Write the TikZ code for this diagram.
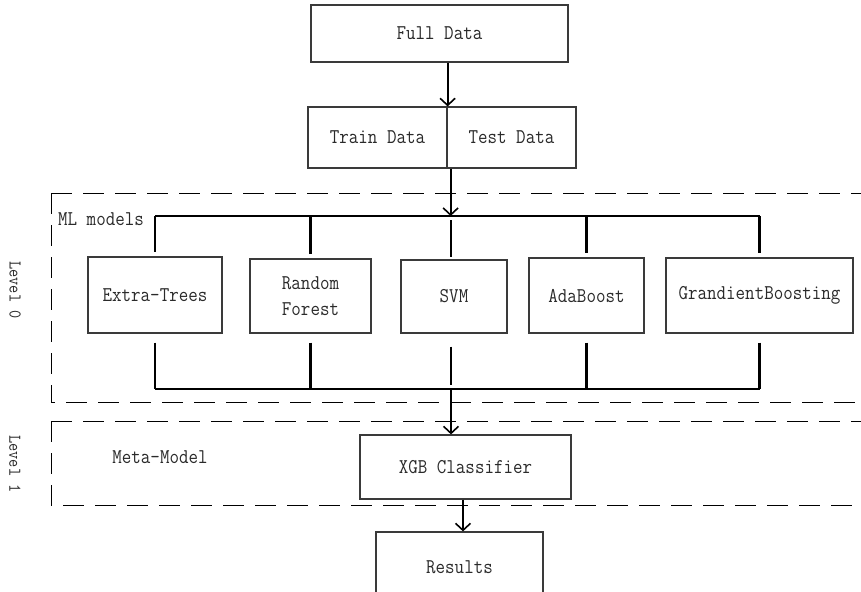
\documentclass[tikz,border=0pt]{standalone}
\usepackage{fontspec}
\usetikzlibrary{arrows.meta}
\newfontfamily\mymono[FakeStretch=0.88]{Latin Modern Mono}
\definecolor{boxc}{HTML}{3A3A3A}
\definecolor{txtc}{HTML}{2A2A2A}
\newcommand\myfont{\fontsize{21}{26}\selectfont\mymono}
\newcommand\mylvfont{\fontsize{18}{20}\selectfont\mymono}
\begin{document}
\begin{tikzpicture}[x=1pt,y=-1pt,
  box/.style={draw=boxc, line width=1.2pt, inner sep=0pt, font=\myfont, text=txtc, align=center},
  conn/.style={line width=1.8pt, draw=black},
  stub/.style={line width=2.6pt, draw=black},
  arr/.style={line width=2pt, draw=black, -{Straight Barb[length=7pt,width=15pt,line width=1.6pt]}},
  region/.style={draw=black, line width=1pt, dash pattern=on 21pt off 11pt},
  lbl/.style={font=\myfont, text=txtc, inner sep=0pt},
  lvl/.style={font=\mylvfont, text=txtc, inner sep=0pt, rotate=-90}
]
\useasboundingbox (0,0) rectangle (861,591);

% dashed regions
\draw[region] (51,193) -- (51,402) -- (880,402);
\draw[region] (51,193) -- (880,193);
\draw[region] (51,421) -- (51,505) -- (880,505);
\draw[region] (51,421) -- (880,421);

% boxes
\node[box, minimum width=257pt, minimum height=57pt] (full) at (439.5,33.5) {Full Data};
\node[box, minimum width=139pt, minimum height=61pt] (train) at (377.5,137.5) {Train Data};
\node[box, minimum width=129pt, minimum height=61pt] (test) at (511.5,137.5) {Test Data};
\node[box, minimum width=134pt, minimum height=76pt] (et) at (155,295) {Extra-Trees};
\node[box, minimum width=121pt, minimum height=74pt] (rf) at (310.5,296) {Random\\Forest};
\node[box, minimum width=106pt, minimum height=73pt] (svm) at (454,296.5) {SVM};
\node[box, minimum width=115pt, minimum height=75pt] (ada) at (586.5,295.5) {AdaBoost};
\node[box, minimum width=187pt, minimum height=75pt] (gb) at (759.5,295.5) {GrandientBoosting};
\node[box, minimum width=211pt, minimum height=64pt] (xgb) at (465.5,467) {XGB Classifier};
\node[box, minimum width=167pt, minimum height=70pt] (res) at (459.5,567) {Results};

% labels
\node[lbl, anchor=west] (ml) at (58,219) {ML models};
\node[lbl] (meta) at (160,457) {Meta-Model};
\node[lvl] (lv0) at (15,290) {Level 0};
\node[lvl] (lv1) at (15,464) {Level 1};

% connectors
\coordinate (top) at (0,216);
\coordinate (bot) at (0,389);
\draw[arr] (train.north east |- full.south) -- (train.north east);
\draw[arr] ([xshift=3pt]train.south east) -- ([xshift=3pt]train.south east |- top);
\draw[conn] (et.north |- top) -- (gb.north |- top);
\foreach \n in {et,rf,ada,gb}
  \draw[stub] (\n.north |- top) -- ([yshift=4pt]\n.north);
\draw[stub] ([xshift=-3pt,yshift=-4pt]svm.north |- top) -- ([xshift=-3pt,yshift=2pt]svm.north);
\foreach \n in {et,rf,ada,gb}
  \draw[stub] ([yshift=-9pt]\n.south) -- (\n.south |- bot);
\draw[stub] ([xshift=-3pt,yshift=-13pt]svm.south) -- ([xshift=-3pt,yshift=4pt]svm.south |- bot);
\draw[conn] (et.south |- bot) -- (gb.south |- bot);
\draw[arr] ([xshift=-3pt]svm.south |- bot) -- ([xshift=-3pt]svm.south |- xgb.north);
\draw[arr] ([xshift=-2.5pt]xgb.south) -- ([xshift=-2.5pt]xgb.south |- res.north);
\end{tikzpicture}
\end{document}
